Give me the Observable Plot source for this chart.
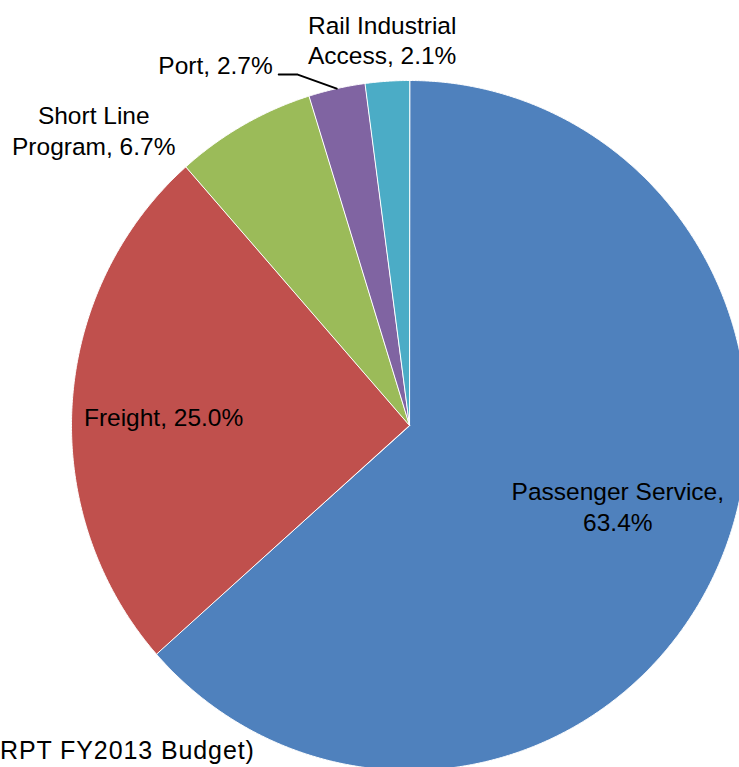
<!DOCTYPE html>
<html>
<head>
<meta charset="utf-8">
<script src="https://cdn.jsdelivr.net/npm/d3@7"></script>
<script src="https://cdn.jsdelivr.net/npm/@observablehq/plot@0.6"></script>
<style>
  html, body { margin: 0; padding: 0; background: #fff; overflow: hidden; }
  #wrap { position: relative; width: 739px; height: 767px; overflow: hidden; }
  #wrap svg { overflow: hidden; }
  #caption {
    position: absolute; left: 0; width: 251px; top: 735px;
    text-align: right; white-space: nowrap;
    font-family: "Liberation Sans", Arial, sans-serif; font-size: 25px;
    letter-spacing: 0.9px; color: #000; line-height: 30px;
  }
</style>
</head>
<body>
<div id="wrap"><div id="caption">RPT FY2013 Budget)</div></div>
<script>
// ---- data ----
const categories = ["Passenger Service", "Freight", "Short Line Program", "Port", "Rail Industrial Access"];
const shares = [63.4, 25.0, 6.7, 2.7, 2.1];
const labelTexts = ["Passenger Service,\n63.4%", "Freight, 25.0%", "Short Line\nProgram, 6.7%", "Port, 2.7%", "Rail Industrial\nAccess, 2.1%"];
const colors = ["#4F81BD", "#C0504D", "#9BBB59", "#8064A2", "#4BACC6"];

// ---- layout (pixels) ----
const CX = 409, CY = 425, RX = 338, RY = 345;
// label placement: radius factor along mid-angle, then pixel offsets
const placement = [
  {k: 0.65, dx: 8,    dy: -12, anchor: "middle"},
  {k: 0.72, dx: -3,   dy: 6,   anchor: "middle"},
  {k: 1.0,  dx: -150, dy: 5,   anchor: "middle"},
  {k: 1.0,  dx: -64,  dy: -24, anchor: "end", leader: [[-39, -14], [-58, -14]]},
  {k: 1.0,  dx: -5,   dy: -42, anchor: "middle"}
];

const arcs = d3.pie().sort(null).value(d => d)(shares);

// slice polygons in unit coordinates (angle clockwise from top)
const slicePts = [];
arcs.forEach((a, i) => {
  const name = categories[i];
  slicePts.push({name, x: 0, y: 0});
  const n = Math.max(2, Math.ceil((a.endAngle - a.startAngle) / (Math.PI / 720)));
  for (let j = 0; j <= n; j++) {
    const t = a.startAngle + (a.endAngle - a.startAngle) * j / n;
    slicePts.push({name, x: Math.sin(t), y: Math.cos(t)});
  }
});

const labelMarks = [];
const leaderPts = [];
arcs.forEach((a, i) => {
  const p = placement[i];
  const mid = (a.startAngle + a.endAngle) / 2;
  const ex = Math.sin(mid), ey = Math.cos(mid);
  const lx = ex * p.k + p.dx / RX, ly = ey * p.k - p.dy / RY;
  labelMarks.push(Plot.text([labelTexts[i]], {
    x: () => lx, y: () => ly, text: d => d,
    textAnchor: p.anchor, lineAnchor: "middle", lineHeight: 1.25,
    fontSize: 24.5, fill: "#000"
  }));
  if (p.leader) {
    leaderPts.push({x: ex, y: ey});
    p.leader.forEach(([ox, oy]) => leaderPts.push({x: ex + ox / RX, y: ey - oy / RY}));
  }
});

const chart = Plot.plot({
  width: 739,
  height: 767,
  margin: 0,
  style: {fontFamily: "'Liberation Sans', Arial, sans-serif", background: "#fff", overflow: "hidden"},
  x: {domain: [-1, 1], range: [CX - RX, CX + RX], axis: null},
  y: {domain: [-1, 1], range: [CY + RY, CY - RY], axis: null},
  color: {domain: categories, range: colors},
  marks: [
    Plot.line(slicePts, {x: "x", y: "y", z: "name", fill: "name", stroke: "#fff", strokeWidth: 1, curve: "linear-closed"}),
    Plot.line(leaderPts, {x: "x", y: "y", stroke: "#000", strokeWidth: 2}),
    ...labelMarks
  ]
});
document.getElementById("wrap").insertBefore(chart, document.getElementById("caption"));
</script>
</body>
</html>
